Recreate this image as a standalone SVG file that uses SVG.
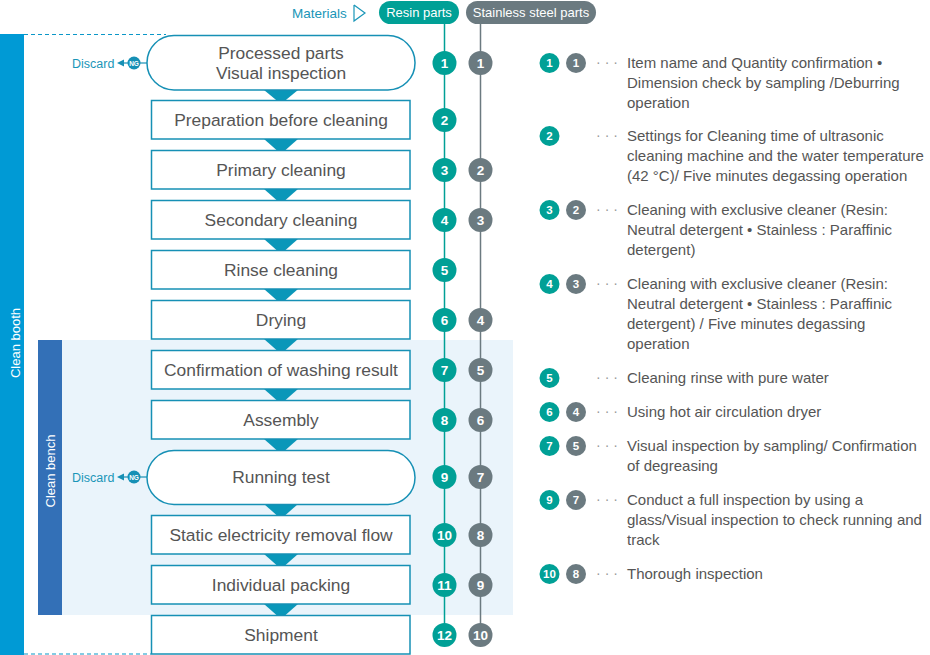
<svg xmlns="http://www.w3.org/2000/svg" width="930" height="655" viewBox="0 0 930 655">
<defs>
<style>
.node{fill:#fff;stroke:#1690B5;stroke-width:1.5}
.nt{font-family:"Liberation Sans",Arial,sans-serif;font-size:17.4px;fill:#555;text-anchor:middle}
.tri{fill:#0A97B9}
.r{fill:#00A096}
.s{fill:#6B7A80}
.cn{font-family:"Liberation Sans",Arial,sans-serif;font-size:13.5px;font-weight:bold;fill:#fff;text-anchor:middle}
.ln{font-family:"Liberation Sans",Arial,sans-serif;font-size:11.5px;font-weight:bold;fill:#fff;text-anchor:middle}
.lt{font-family:"Liberation Sans",Arial,sans-serif;font-size:15px;fill:#555}
.dots{font-family:"Liberation Sans",Arial,sans-serif;font-size:14px;fill:#999;text-anchor:middle}
.blue{font-family:"Liberation Sans",Arial,sans-serif;font-size:13.5px;fill:#1A96B8}
.disc{font-family:"Liberation Sans",Arial,sans-serif;font-size:12.5px;fill:#1A96B8}
.wt{font-family:"Liberation Sans",Arial,sans-serif;font-size:13px;fill:#fff}
</style>
</defs>
<rect width="930" height="655" fill="#fff"/>

<g id="clean-booth">
<rect x="0" y="34" width="24" height="621" fill="#009AD5"/>
<line x1="24" y1="34.5" x2="166" y2="34.5" stroke="#0A97C8" stroke-width="1.2" stroke-dasharray="4,3"/>
<line x1="24" y1="654" x2="151" y2="654" stroke="#0A97C8" stroke-width="1.2" stroke-dasharray="4,3"/>
<text class="wt" transform="translate(19.5,343) rotate(-90)" text-anchor="middle" font-size="14.5">Clean booth</text>
</g>

<g id="clean-bench">
<rect x="62" y="340" width="451" height="275" fill="#EAF4FB"/>
<rect x="38" y="340" width="24" height="275" fill="#3370B7"/>
<text class="wt" transform="translate(55,471) rotate(-90)" text-anchor="middle" font-size="13.5">Clean bench</text>
</g>

<g id="header">
<text class="blue" x="292" y="18">Materials</text>
<polyline points="354,5 365,13 354,21 354,5" fill="none" stroke="#1A96B8" stroke-width="1.2"/>
<rect x="379" y="1" width="80" height="23" rx="11.5" class="r"/>
<text class="wt" x="419" y="17" text-anchor="middle">Resin parts</text>
<rect x="466" y="1" width="130" height="23" rx="11.5" class="s"/>
<text class="wt" x="531" y="17" text-anchor="middle">Stainless steel parts</text>
</g>

<g id="connectors">
<line x1="444.5" y1="24" x2="444.5" y2="630" stroke="#00A096" stroke-width="1.5"/>
<line x1="480.5" y1="24" x2="480.5" y2="630" stroke="#6B7A80" stroke-width="1.5"/>
<polygon class="tri" points="264,90 298,90 281,104"/>
<polygon class="tri" points="264,139 298,139 281,154"/>
<polygon class="tri" points="264,189 298,189 281,204"/>
<polygon class="tri" points="264,239 298,239 281,254"/>
<polygon class="tri" points="264,289 298,289 281,304"/>
<polygon class="tri" points="264,339 298,339 281,354"/>
<polygon class="tri" points="264,389 298,389 281,404"/>
<polygon class="tri" points="264,439 298,439 281,454"/>
<polygon class="tri" points="264,504 298,504 281,519"/>
<polygon class="tri" points="264,554 298,554 281,569"/>
<polygon class="tri" points="264,604 298,604 281,619"/>
<line x1="140" y1="63" x2="147" y2="63" stroke="#1690B5" stroke-width="1.2"/>
<line x1="119" y1="63" x2="128" y2="63" stroke="#1690B5" stroke-width="1.2"/>
<polygon points="117,63 124,59.5 124,66.5" fill="#1690B5"/>
<line x1="140" y1="477" x2="147" y2="477" stroke="#1690B5" stroke-width="1.2"/>
<line x1="119" y1="477" x2="128" y2="477" stroke="#1690B5" stroke-width="1.2"/>
<polygon points="117,477 124,473.5 124,480.5" fill="#1690B5"/>
</g>

<g id="n1">
<rect class="node" x="147" y="35.5" width="268" height="54.5" rx="27"/>
<text class="nt" x="281" y="59">Processed parts</text>
<text class="nt" x="281" y="79">Visual inspection</text>
</g>
<g id="discard1">
<text class="disc" x="72" y="67.5">Discard</text>
<circle cx="134" cy="63" r="6.5" fill="#1690B5"/>
<text x="134" y="65.5" font-family="Liberation Sans,Arial,sans-serif" font-size="6.5" font-weight="bold" fill="#fff" text-anchor="middle">NG</text>
</g>
<g id="n2"><rect class="node" x="151.5" y="100.5" width="258.5" height="38.5"/><text class="nt" x="281" y="126">Preparation before cleaning</text></g>
<g id="n3"><rect class="node" x="151.5" y="150.5" width="258.5" height="38.5"/><text class="nt" x="281" y="176">Primary cleaning</text></g>
<g id="n4"><rect class="node" x="151.5" y="200.5" width="258.5" height="38.5"/><text class="nt" x="281" y="226">Secondary cleaning</text></g>
<g id="n5"><rect class="node" x="151.5" y="250.5" width="258.5" height="38.5"/><text class="nt" x="281" y="276">Rinse cleaning</text></g>
<g id="n6"><rect class="node" x="151.5" y="300.5" width="258.5" height="38.5"/><text class="nt" x="281" y="326">Drying</text></g>
<g id="n7"><rect class="node" x="151.5" y="350.5" width="258.5" height="38.5"/><text class="nt" x="281" y="376">Confirmation of washing result</text></g>
<g id="n8"><rect class="node" x="151.5" y="400.5" width="258.5" height="38.5"/><text class="nt" x="281" y="426">Assembly</text></g>
<g id="n9">
<rect class="node" x="147" y="450.5" width="268" height="54" rx="27"/>
<text class="nt" x="281" y="483">Running test</text>
</g>
<g id="discard2">
<text class="disc" x="72" y="481.5">Discard</text>
<circle cx="134" cy="477" r="6.5" fill="#1690B5"/>
<text x="134" y="479.5" font-family="Liberation Sans,Arial,sans-serif" font-size="6.5" font-weight="bold" fill="#fff" text-anchor="middle">NG</text>
</g>
<g id="n10"><rect class="node" x="151.5" y="515.5" width="258.5" height="38.5"/><text class="nt" x="281" y="541">Static electricity removal flow</text></g>
<g id="n11"><rect class="node" x="151.5" y="565.5" width="258.5" height="38.5"/><text class="nt" x="281" y="591">Individual packing</text></g>
<g id="n12"><rect class="node" x="151.5" y="615.5" width="258.5" height="38.5"/><text class="nt" x="281" y="641">Shipment</text></g>

<g id="resin-steps">
<circle class="r" cx="444.5" cy="63" r="12"/><text class="cn" x="444.5" y="68">1</text>
<circle class="r" cx="444.5" cy="120" r="12"/><text class="cn" x="444.5" y="125">2</text>
<circle class="r" cx="444.5" cy="170" r="12"/><text class="cn" x="444.5" y="175">3</text>
<circle class="r" cx="444.5" cy="220" r="12"/><text class="cn" x="444.5" y="225">4</text>
<circle class="r" cx="444.5" cy="270" r="12"/><text class="cn" x="444.5" y="275">5</text>
<circle class="r" cx="444.5" cy="320" r="12"/><text class="cn" x="444.5" y="325">6</text>
<circle class="r" cx="444.5" cy="370" r="12"/><text class="cn" x="444.5" y="375">7</text>
<circle class="r" cx="444.5" cy="420" r="12"/><text class="cn" x="444.5" y="425">8</text>
<circle class="r" cx="444.5" cy="477" r="12"/><text class="cn" x="444.5" y="482">9</text>
<circle class="r" cx="444.5" cy="535" r="12"/><text class="cn" x="444.5" y="540">10</text>
<circle class="r" cx="444.5" cy="585" r="12"/><text class="cn" x="444.5" y="590">11</text>
<circle class="r" cx="444.5" cy="635" r="12"/><text class="cn" x="444.5" y="640">12</text>
</g>
<g id="steel-steps">
<circle class="s" cx="480.5" cy="63" r="12"/><text class="cn" x="480.5" y="68">1</text>
<circle class="s" cx="480.5" cy="170" r="12"/><text class="cn" x="480.5" y="175">2</text>
<circle class="s" cx="480.5" cy="220" r="12"/><text class="cn" x="480.5" y="225">3</text>
<circle class="s" cx="480.5" cy="320" r="12"/><text class="cn" x="480.5" y="325">4</text>
<circle class="s" cx="480.5" cy="370" r="12"/><text class="cn" x="480.5" y="375">5</text>
<circle class="s" cx="480.5" cy="420" r="12"/><text class="cn" x="480.5" y="425">6</text>
<circle class="s" cx="480.5" cy="477" r="12"/><text class="cn" x="480.5" y="482">7</text>
<circle class="s" cx="480.5" cy="535" r="12"/><text class="cn" x="480.5" y="540">8</text>
<circle class="s" cx="480.5" cy="585" r="12"/><text class="cn" x="480.5" y="590">9</text>
<circle class="s" cx="480.5" cy="635" r="12"/><text class="cn" x="480.5" y="640">10</text>
</g>

<g id="legend">
<circle class="r" cx="549.5" cy="63" r="10"/><text class="ln" x="549.5" y="67">1</text>
<circle class="s" cx="576" cy="63" r="10"/><text class="ln" x="576" y="67">1</text>
<text class="dots" x="607" y="67">· · ·</text>
<text class="lt" x="627" y="68">Item name and Quantity confirmation •</text>
<text class="lt" x="627" y="88">Dimension check by sampling /Deburring</text>
<text class="lt" x="627" y="108">operation</text>

<circle class="r" cx="549.5" cy="136" r="10"/><text class="ln" x="549.5" y="140">2</text>
<text class="dots" x="607" y="140">· · ·</text>
<text class="lt" x="627" y="141">Settings for Cleaning time of ultrasonic</text>
<text class="lt" x="627" y="161">cleaning machine and the water temperature</text>
<text class="lt" x="627" y="181">(42 °C)/ Five minutes degassing operation</text>

<circle class="r" cx="549.5" cy="210" r="10"/><text class="ln" x="549.5" y="214">3</text>
<circle class="s" cx="576" cy="210" r="10"/><text class="ln" x="576" y="214">2</text>
<text class="dots" x="607" y="214">· · ·</text>
<text class="lt" x="627" y="215">Cleaning with exclusive cleaner (Resin:</text>
<text class="lt" x="627" y="235">Neutral detergent • Stainless : Paraffinic</text>
<text class="lt" x="627" y="255">detergent)</text>

<circle class="r" cx="549.5" cy="284" r="10"/><text class="ln" x="549.5" y="288">4</text>
<circle class="s" cx="576" cy="284" r="10"/><text class="ln" x="576" y="288">3</text>
<text class="dots" x="607" y="288">· · ·</text>
<text class="lt" x="627" y="289">Cleaning with exclusive cleaner (Resin:</text>
<text class="lt" x="627" y="309">Neutral detergent • Stainless : Paraffinic</text>
<text class="lt" x="627" y="329">detergent) / Five minutes degassing</text>
<text class="lt" x="627" y="349">operation</text>

<circle class="r" cx="549.5" cy="378" r="10"/><text class="ln" x="549.5" y="382">5</text>
<text class="dots" x="607" y="382">· · ·</text>
<text class="lt" x="627" y="383">Cleaning rinse with pure water</text>

<circle class="r" cx="549.5" cy="412" r="10"/><text class="ln" x="549.5" y="416">6</text>
<circle class="s" cx="576" cy="412" r="10"/><text class="ln" x="576" y="416">4</text>
<text class="dots" x="607" y="416">· · ·</text>
<text class="lt" x="627" y="417">Using hot air circulation dryer</text>

<circle class="r" cx="549.5" cy="446" r="10"/><text class="ln" x="549.5" y="450">7</text>
<circle class="s" cx="576" cy="446" r="10"/><text class="ln" x="576" y="450">5</text>
<text class="dots" x="607" y="450">· · ·</text>
<text class="lt" x="627" y="451">Visual inspection by sampling/ Confirmation</text>
<text class="lt" x="627" y="471">of degreasing</text>

<circle class="r" cx="549.5" cy="500" r="10"/><text class="ln" x="549.5" y="504">9</text>
<circle class="s" cx="576" cy="500" r="10"/><text class="ln" x="576" y="504">7</text>
<text class="dots" x="607" y="504">· · ·</text>
<text class="lt" x="627" y="505">Conduct a full inspection by using a</text>
<text class="lt" x="627" y="525">glass/Visual inspection to check running and</text>
<text class="lt" x="627" y="545">track</text>

<circle class="r" cx="549.5" cy="574" r="10"/><text class="ln" x="549.5" y="578">10</text>
<circle class="s" cx="576" cy="574" r="10"/><text class="ln" x="576" y="578">8</text>
<text class="dots" x="607" y="578">· · ·</text>
<text class="lt" x="627" y="579">Thorough inspection</text>
</g>
</svg>
